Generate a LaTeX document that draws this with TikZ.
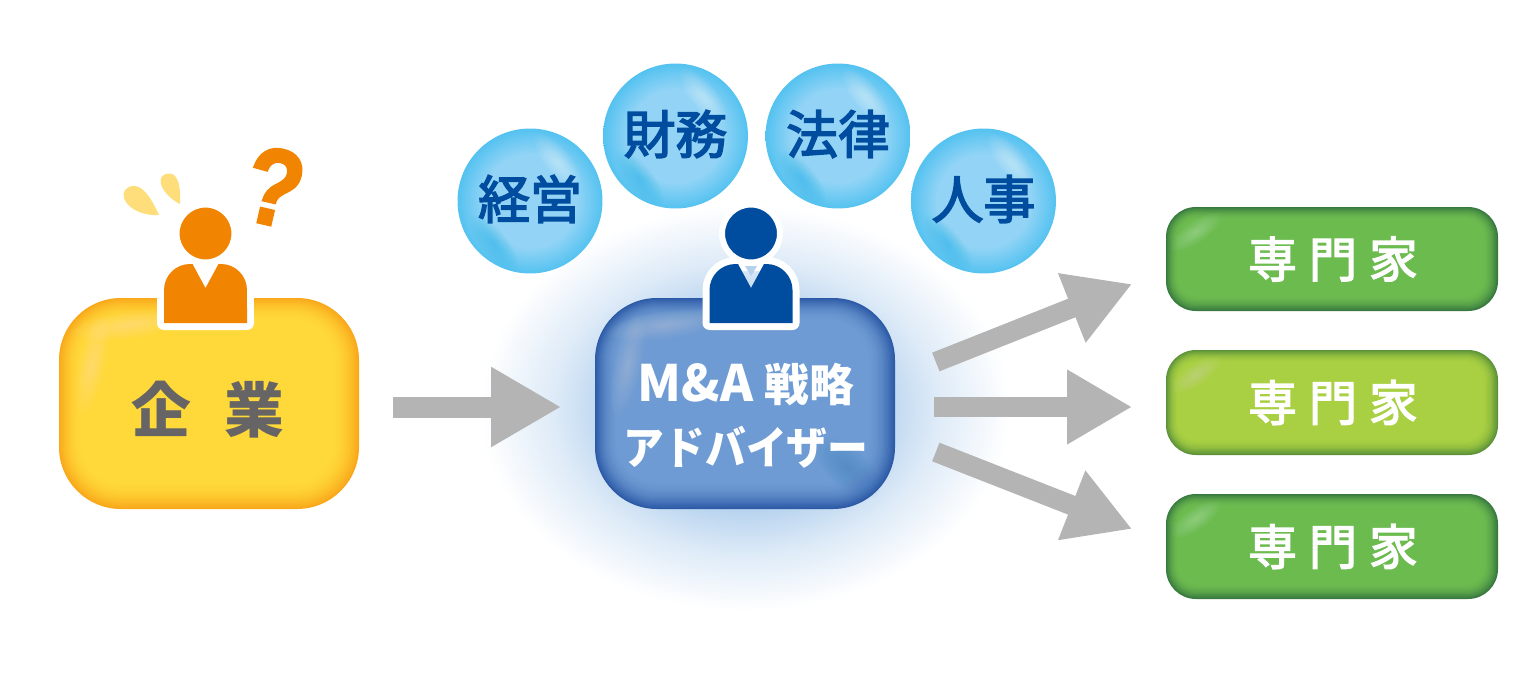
\documentclass[tikz,border=0pt]{standalone}
\usepackage{fontspec}
\usetikzlibrary{arrows.meta,calc}
\newfontfamily\jpfont{Noto Sans CJK JP}
\newfontfamily\jpheavy[FakeBold=3]{Noto Sans CJK JP}
\newfontfamily\jpnarrow[FakeStretch=0.91]{Noto Sans CJK JP}
\newfontfamily\jpspaced[LetterSpace=25,FakeBold=3]{Noto Sans CJK JP}
\newfontfamily\markfont[FakeBold=2.5]{Liberation Sans}
\definecolor{yellowedge}{HTML}{F9A81A}
\definecolor{yellowcore}{HTML}{FFD939}
\definecolor{blueedge}{HTML}{2C5AA6}
\definecolor{bluecore}{HTML}{6E9BD3}
\definecolor{bluespot}{HTML}{3F7FC4}
\definecolor{greenedge}{HTML}{37793F}
\definecolor{greencore}{HTML}{6CBB4F}
\definecolor{limeedge}{HTML}{5C9239}
\definecolor{limecore}{HTML}{A9D042}
\definecolor{personorange}{HTML}{F18400}
\definecolor{personblue}{HTML}{004DA0}
\definecolor{dropyellow}{HTML}{FEDD7B}
\definecolor{flowgray}{HTML}{B3B4B3}
\definecolor{textgray}{HTML}{666464}
\definecolor{bubblecore}{HTML}{93D4F6}
\definecolor{bubbleedge}{HTML}{54C2F0}
\definecolor{bubblespot}{HTML}{2BB6EE}
\definecolor{glowblue}{HTML}{B4D1EE}
\pgfdeclareradialshading{glowshade}{\pgfpoint{0bp}{0bp}}{color(0bp)=(glowblue); color(12bp)=(glowblue); color(18bp)=(glowblue!45!white); color(25bp)=(white); color(50bp)=(white)}
\pgfdeclareradialshading{bubbleshade}{\pgfpoint{0bp}{0bp}}{color(0bp)=(bubblecore); color(16bp)=(bubblecore); color(25bp)=(bubbleedge); color(50bp)=(bubbleedge)}
% layered fill for the soft box edge
\newcommand{\softbox}[8]{
	\foreach \i in {0,...,#8}{
		\pgfmathsetmacro{\mix}{100*(1-\i/#8)*(1-\i/#8)}
		\pgfmathsetlengthmacro{\rad}{max(#5-\i,4)*0.02cm}
		\fill[color=#6!\mix!#7,rounded corners=\rad] (#1+\i,#2+\i) rectangle (#3-1.2*\i,#4-1.2*\i);
	}
}
\newcommand{\softspot}[7]{
	\foreach \k in {1,...,16}{
		\fill[color=#6,opacity=#7,rotate around={#5:(#1,#2)}] (#1,#2) ellipse [x radius=#3*\k*0.00125cm,y radius=#4*\k*0.00125cm];
	}
}
% head and body of a person, x is the middle
\newcommand{\personfig}[3]{
	\begin{scope}[shift={(#1,0)}]
		\fill[white,rounded corners=0.12cm] (-48,290) rectangle (48,329);
		\draw[white,line width=0.28cm,line join=round] (-41.5,323) -- (-41.5,290) arc[start angle=180,end angle=90,radius=0.52cm] -- (15.5,264) arc[start angle=90,end angle=0,radius=0.52cm] -- (41.5,323) -- cycle;
		\fill[color=#2] (-41.5,323) -- (-41.5,290) arc[start angle=180,end angle=90,radius=0.52cm] -- (-13,264) -- (0,288) -- (13,264) -- (15.5,264) arc[start angle=90,end angle=0,radius=0.52cm] -- (41.5,323) -- cycle;
		\node[circle,fill=#2,draw=white,line width=0.12cm,minimum size=1.16cm,inner sep=0] (#3) at (0,233.5) {};
	\end{scope}
}
\tikzset{
	flowarrow/.style={color=flowgray,line width=0.42cm,-{Triangle[length=1.4cm,width=1.5cm]}},
	sidearrow/.style={color=flowgray,line width=0.4cm,-{Triangle[length=1.3cm,width=1.4cm]}},
	boxnode/.style={rectangle,inner sep=0,minimum width=6cm,minimum height=4.22cm},
	expertnode/.style={rectangle,inner sep=0,minimum width=6.64cm,minimum height=2.1cm},
	expertlabel/.style={text=white,font=\jpspaced\fontsize{27.5}{30}\selectfont},
	bubblenode/.style={circle,inner sep=0,minimum size=2.9cm,shading=bubbleshade},
	bubblelabel/.style={text=personblue,font=\jpheavy\fontsize{29.5}{30}\selectfont}
}
\begin{document}
\begin{tikzpicture}[x=0.02cm,y=-0.02cm]
		\useasboundingbox (0,0) rectangle (1539,676);
		\shade[shading=glowshade] (745,408) ellipse [x radius=5.3cm,y radius=4.05cm];
		% company box
		\softbox{59}{298}{359}{509}{62}{yellowedge}{yellowcore}{24}
		\softspot{130}{325}{60}{14}{8}{white}{0.018}
		\softspot{92}{365}{52}{14}{78}{white}{0.018}
		\node[boxnode] (company) at (209,403.5) {};
		\personfig{205.5}{personorange}{companyhead}
		\node[text=textgray,font=\jpfont\bfseries\fontsize{34}{36}\selectfont] (companylabel) at (208,410) {企\hspace{0.55em}業};
		\node[text=personorange,font=\markfont\bfseries\fontsize{62}{62}\selectfont,rotate=-13,xscale=0.85] (question) at (274.5,187) {?};
		\fill[color=dropyellow] (159,215) .. controls (150,195) and (142,186) .. (134,186) .. controls (126,186) and (122,192) .. (124,198) .. controls (128,210) and (145,216) .. (159,215);
		\fill[color=dropyellow] (180,204) .. controls (181,190) and (179,174) .. (170,173.5) .. controls (163,173) and (159,178) .. (161,184) .. controls (163,192) and (172,200) .. (180,204);
		% advisor box
		\softbox{595}{298}{895}{509}{62}{blueedge}{bluecore}{24}
		\softspot{666}{325}{60}{14}{8}{white}{0.018}
		\softspot{628}{365}{52}{14}{78}{white}{0.018}
		\softspot{848}{468}{40}{20}{-42}{bluespot}{0.03}
		\node[boxnode] (advisor) at (745,403.5) {};
		\personfig{751}{personblue}{advisorhead}
		\fill[color=glowblue] (745,266) -- (751,276) -- (757,266) -- cycle;
		\node[text=white,font=\jpnarrow\bfseries,align=center] (advisorlabel) at (746,416) {{\jpfont\fontsize{28.5}{30}\selectfont M\&A {\fontsize{25.5}{30}\selectfont 戦略}}\\[0.36cm]{\fontsize{25.5}{30}\selectfont アドバイザー}};
		% bubbles
		\foreach \x/\y/\nm/\txt in {530/201/management/経営,675.5/136/finance/財務,838/136/law/法律,983.5/201/personnel/人事}{
			\node[bubblenode] (\nm) at (\x,\y) {};
			\softspot{\x+28}{\y-40}{34}{13}{-50}{white}{0.03}
			\softspot{\x-36}{\y+42}{34}{13}{-50}{bubblespot}{0.04}
			\node[bubblelabel] (\nm label) at (\x,\y-2) {\txt};
		}
		% experts
		\softbox{1166}{207}{1498}{311}{30}{greenedge}{greencore}{13}
		\softspot{1196}{232}{30}{11}{35}{white}{0.018}
		\softbox{1166}{350}{1498}{455}{30}{limeedge}{limecore}{13}
		\softspot{1196}{375}{30}{11}{35}{white}{0.018}
		\softbox{1166}{494}{1498}{599}{30}{greenedge}{greencore}{13}
		\softspot{1196}{519}{30}{11}{35}{white}{0.018}
		\foreach \y/\nm in {259/expertA,402.5/expertB,546.5/expertC}{
			\node[expertnode] (\nm) at (1332,\y) {};
			\node[expertlabel] (\nm label) at (1333,\y) {専門家};
		}
		% flows
		\draw[flowarrow] ($(company.east)+(34,3.5)$) -- ($(advisor.west)+(-33.5,3.5)$);
		\draw[sidearrow] ($(advisor.east)+(40.5,-41.5)$) -- ($(expertA.west)+(-33.5,25)$);
		\draw[sidearrow] ($(advisor.east)+(39,3.5)$) -- ($(expertB.west)+(-33.5,4.5)$);
		\draw[sidearrow] ($(advisor.east)+(40.5,48.5)$) -- ($(expertC.west)+(-33.5,-17.5)$);
		\end{tikzpicture}
\end{document}
